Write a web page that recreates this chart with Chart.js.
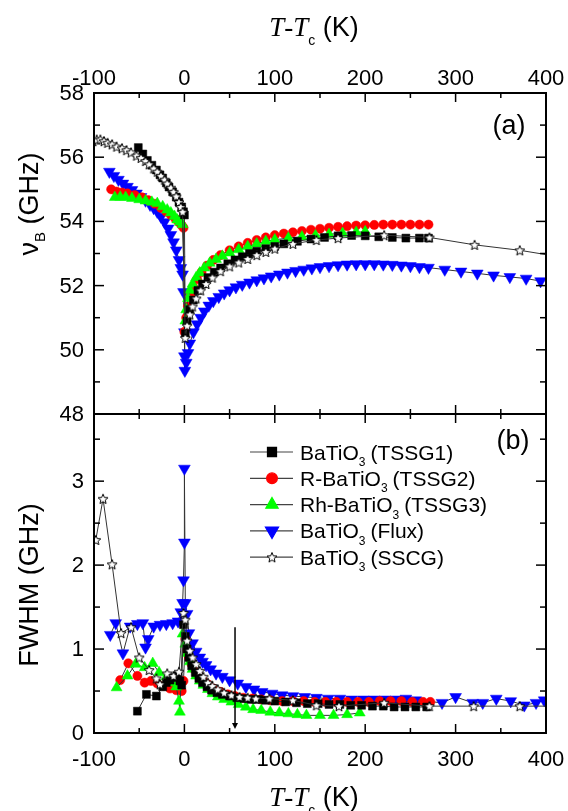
<!DOCTYPE html>
<html>
<head>
<meta charset="utf-8">
<script src="https://cdn.jsdelivr.net/npm/chart.js@4.4.0/dist/chart.umd.min.js"></script>
<style>
  html, body { margin: 0; padding: 0; background: #fff; }
  #wrap { position: relative; width: 568px; height: 811px; }
  #wrap canvas { position: absolute; left: 0; top: 0; }
</style>
</head>
<body>
<div id="wrap">
  <canvas id="panelA" width="568" height="811"></canvas>
  <canvas id="panelB" width="568" height="811"></canvas>
</div>
<script>
// --- data: [T-Tc (K), value] ---
const xTickVals = [-100, 0, 100, 200, 300, 400];
const nuTickVals = [48, 50, 52, 54, 56, 58];
const fwTickVals = [0, 1, 2, 3];

const seriesNames = [
  ['BaTiO', '3', '(TSSG1)'],
  ['R-BaTiO', '3', '(TSSG2)'],
  ['Rh-BaTiO', '3', '(TSSG3)'],
  ['BaTiO', '3', '(Flux)'],
  ['BaTiO', '3', '(SSCG)']
];

// panel (a) : Brillouin shift (GHz)
const tssg1Nu = [[-51,56.3],[-46,56.1],[-41,55.9],[-36,55.75],[-31,55.6],[-27,55.45],[-24,55.35],[-20,55.2],[-17,55.07],[-13,54.92],[-9,54.76],[-6,54.6],[-3,54.45],[-1,54.3],[0,54.2],
  [1,50.5],[3,50.9],[6,51.25],[10,51.55],[15,51.85],[20,52.05],[26,52.25],[33,52.42],[40,52.55],[48,52.68],[56,52.8],[64,52.9],[72,53.0],[80,53.07],[90,53.15],[100,53.22],[110,53.3],[125,53.38],[140,53.45],[155,53.5],[170,53.55],[185,53.56],[200,53.55],[215,53.52],[230,53.5],[245,53.48],[260,53.48],[270,53.48]];
const tssg2Nu = [[-81,55.0],[-75,54.93],[-69,54.9],[-63,54.87],[-55,54.82],[-47,54.75],[-40,54.66],[-33,54.55],[-26,54.42],[-20,54.3],[-15,54.2],[-10,54.08],[-6,53.97],[-3,53.88],[-1,53.8],
  [0,50.56],[2,51.0],[4,51.35],[7,51.7],[10,51.95],[14,52.2],[19,52.42],[25,52.62],[32,52.8],[40,52.95],[50,53.1],[60,53.22],[70,53.33],[80,53.42],[90,53.5],[100,53.57],[110,53.62],[120,53.66],[130,53.7],[140,53.74],[150,53.77],[160,53.8],[170,53.83],[180,53.85],[190,53.87],[200,53.88],[210,53.89],[220,53.9],[230,53.9],[240,53.9],[250,53.9],[260,53.9],[270,53.9]];
const tssg3Nu = [[-77,54.75],[-71,54.76],[-65,54.75],[-58,54.72],[-50,54.68],[-43,54.64],[-36,54.6],[-30,54.56],[-24,54.46],[-19,54.36],[-15,54.27],[-11,54.16],[-8,54.05],[-5,53.98],[-2,53.9],
  [1,50.9],[2,51.25],[4,51.6],[6,51.85],[9,52.05],[13,52.25],[17,52.4],[22,52.55],[28,52.7],[35,52.82],[42,52.92],[50,53.02],[60,53.12],[70,53.22],[80,53.3],[90,53.38],[100,53.43],[115,53.48],[130,53.52],[145,53.56],[160,53.6],[175,53.63],[190,53.66],[200,53.68]];
const fluxNu = [[-83,55.55],[-78,55.42],[-73,55.3],[-68,55.18],[-63,55.08],[-58,54.98],[-53,54.87],[-48,54.76],[-43,54.65],[-38,54.52],[-34,54.42],[-30,54.3],[-26,54.15],[-22,53.98],[-18,53.78],[-15,53.58],[-12,53.35],[-9,53.1],[-6,52.8],[-4,52.55],[-2,52.35],[-1,51.8],[0,50.55],[0,49.8],[0.5,49.35],
  [2,49.6],[4,49.9],[6,50.2],[10,50.55],[14,50.8],[18,51.0],[22,51.2],[27,51.38],[32,51.52],[38,51.65],[44,51.76],[50,51.86],[57,51.95],[64,52.03],[72,52.1],[80,52.17],[88,52.23],[96,52.29],[105,52.35],[114,52.41],[123,52.46],[132,52.5],[141,52.54],[150,52.58],[160,52.61],[170,52.64],[180,52.66],[190,52.67],[200,52.67],[210,52.67],[220,52.66],[230,52.65],[240,52.63],[250,52.61],[260,52.58],[270,52.56],[288,52.5],[306,52.44],[324,52.38],[342,52.32],[360,52.27],[378,52.22],[394,52.14]];
const sscgNu = [[-101,56.5],[-97,56.55],[-93,56.55],[-89,56.5],[-85,56.45],[-80,56.4],[-75,56.33],[-69,56.28],[-64,56.22],[-59,56.15],[-53,56.05],[-48,55.98],[-43,55.88],[-39,55.78],[-34,55.65],[-30,55.55],[-26,55.42],[-22,55.3],[-19,55.18],[-15,55.05],[-12,54.92],[-9,54.78],[-6,54.6],[-4,54.45],[-2,54.3],
  [1,50.37],[3,50.75],[6,51.1],[9,51.35],[13,51.6],[18,51.85],[24,52.05],[31,52.25],[40,52.45],[50,52.6],[60,52.72],[70,52.83],[80,52.95],[90,53.05],[100,53.15],[120,53.3],[146,53.42],[170,53.48],[221,53.57],[271,53.5],[321,53.27],[371,53.1],[425,52.85]];

// panel (b) : FWHM (GHz)
const tssg1Fw = [[-52,0.26],[-42,0.46],[-31,0.44],[-24,0.55],[-20,0.6],[-16,0.63],[-12,0.66],[-8,0.68],[-5,0.62],[-3,0.57],[-1,1.29],
  [1,1.15],[3,1.0],[5,0.9],[8,0.8],[12,0.72],[16,0.65],[20,0.6],[25,0.55],[30,0.51],[36,0.48],[42,0.46],[50,0.44],[58,0.42],[66,0.41],[74,0.4],[82,0.4],[90,0.39],[100,0.38],[112,0.37],[124,0.36],[136,0.35],[148,0.35],[160,0.34],[172,0.34],[184,0.33],[196,0.33],[208,0.32],[220,0.32],[232,0.31],[244,0.31],[256,0.31],[268,0.31]];
const tssg2Fw = [[-71,0.63],[-62,0.83],[-52,0.68],[-44,0.6],[-37,0.62],[-30,0.59],[-23,0.56],[-16,0.53],[-9,0.51],[-3,0.5],[-1,0.62],
  [1,1.12],[3,0.98],[5,0.9],[8,0.82],[11,0.76],[15,0.7],[20,0.64],[26,0.58],[32,0.53],[40,0.49],[48,0.46],[56,0.44],[65,0.42],[75,0.41],[85,0.4],[95,0.39],[108,0.38],[120,0.38],[132,0.38],[144,0.37],[156,0.37],[168,0.37],[180,0.37],[192,0.37],[204,0.37],[216,0.38],[228,0.38],[240,0.38],[252,0.37],[264,0.37],[272,0.37]];
const tssg3Fw = [[-75,0.54],[-63,0.68],[-54,0.82],[-44,0.78],[-35,0.83],[-28,0.72],[-20,0.67],[-14,0.6],[-9,0.55],[-6,0.38],[-5,0.25],[-2,1.18],
  [1,1.06],[3,0.95],[6,0.85],[9,0.76],[13,0.68],[17,0.62],[21,0.57],[26,0.52],[31,0.47],[37,0.43],[44,0.4],[52,0.37],[60,0.34],[68,0.31],[76,0.28],[85,0.27],[95,0.25],[105,0.24],[115,0.23],[125,0.22],[135,0.21],[150,0.21],[165,0.21],[180,0.22],[194,0.24]];
const fluxFw = [[-82,1.17],[-76,1.31],[-68,0.95],[-60,1.27],[-52,1.3],[-46,1.31],[-43,1.02],[-40,1.12],[-34,1.27],[-27,1.29],[-20,1.3],[-13,1.31],[-7,1.33],[-4,1.44],[-2,1.55],[-1,1.82],[0,2.27],[0,3.15],
  [1,1.55],[3,1.42],[5,1.19],[9,1.07],[13,0.97],[17,0.9],[20,0.85],[24,0.81],[29,0.76],[35,0.71],[42,0.67],[50,0.63],[59,0.59],[68,0.55],[77,0.52],[86,0.49],[97,0.47],[108,0.45],[120,0.44],[133,0.43],[146,0.42],[159,0.41],[172,0.41],[185,0.4],[198,0.4],[210,0.4],[222,0.4],[234,0.4],[245,0.41],[256,0.39],[285,0.36],[300,0.43],[319,0.36],[330,0.36],[345,0.41],[361,0.38],[376,0.33],[389,0.36],[398,0.39]];
const sscgFw = [[-98,2.3],[-90,2.79],[-80,2.01],[-70,1.19],[-59,1.26],[-50,0.9],[-39,0.75],[-31,0.65],[-27,0.58],[-19,0.71],[-12,0.68],[-6,0.73],[-1,1.43],
  [1,1.35],[3,1.1],[6,0.98],[9,0.9],[13,0.82],[17,0.74],[21,0.67],[26,0.6],[31,0.56],[37,0.52],[44,0.48],[52,0.45],[61,0.43],[70,0.42],[79,0.41],[94,0.41],[120,0.39],[146,0.33],[171,0.32],[221,0.36],[271,0.32],[320,0.32],[371,0.32],[420,0.32]];

const arrowAt = 56;      // marked temperature in panel (b)
const arrowTop = 1.26;

// --- styles ---
const SANS = '"Liberation Sans", Arial, sans-serif';
const SERIF = '"Liberation Serif", "Times New Roman", serif';

function starImage(r) {
  const c = document.createElement('canvas');
  const s = Math.ceil(r * 2 + 3);
  c.width = c.height = s;
  const g = c.getContext('2d');
  g.beginPath();
  for (let i = 0; i < 10; i++) {
    const rr = i % 2 ? r * 0.45 : r;
    const a = -Math.PI / 2 + i * Math.PI / 5;
    const px = s / 2 + rr * Math.cos(a), py = s / 2 + rr * Math.sin(a) + r * 0.1;
    if (i) g.lineTo(px, py); else g.moveTo(px, py);
  }
  g.closePath();
  g.fillStyle = '#fff';
  g.fill();
  g.lineWidth = 1;
  g.strokeStyle = '#000';
  g.stroke();
  return c;
}
const star = starImage(5.2);

// draw order: first dataset ends up on top
const looks = [
  { color: '#000000', shape: 'rect', r: 5.6, rot: 0 },      // TSSG1
  { color: '#ff0000', shape: 'circle', r: 4.6, rot: 0 },    // TSSG2
  { color: '#00ff00', shape: 'triangle', r: 6.3, rot: 0 },  // TSSG3
  { color: '#0000ff', shape: 'triangle', r: 6.8, rot: 180 },// Flux
  { color: '#000000', shape: star, r: 5, rot: 0 }           // SSCG
];

function series(pts, k) {
  const lk = looks[k];
  return {
    data: pts.map(p => ({ x: p[0], y: p[1] })),
    showLine: true,
    borderColor: '#333',
    borderWidth: 1,
    pointStyle: lk.shape,
    pointRotation: lk.rot,
    pointRadius: lk.r,
    pointBackgroundColor: lk.shape === star ? '#fff' : lk.color,
    pointBorderColor: lk.color,
    pointBorderWidth: 0.5
  };
}

function drawRuns(ctx, runs, x, y) {
  let w = 0;
  runs.forEach(r => { ctx.font = r.font; w += ctx.measureText(r.t).width + (r.gap || 0); });
  let cx = x - w / 2;
  ctx.textAlign = 'left';
  ctx.textBaseline = 'alphabetic';
  runs.forEach(r => {
    ctx.font = r.font;
    ctx.fillText(r.t, cx, y + (r.dy || 0));
    cx += ctx.measureText(r.t).width + (r.gap || 0);
  });
}

const xTitleRuns = [
  { t: 'T', font: 'italic 27px ' + SERIF },
  { t: '-', font: '27px ' + SERIF },
  { t: 'T', font: 'italic 27px ' + SERIF },
  { t: 'c', font: '14px ' + SANS, dy: 9 },
  { t: ' (K)', font: '27px ' + SANS }
];

// frame, inward ticks, tick labels and titles, all placed through the chart scales
const panelDeco = {
  id: 'panelDeco',
  afterDraw(chart, args, o) {
    const { ctx, chartArea: a } = chart;
    const xs = chart.scales.x, ys = chart.scales.y;
    ctx.save();
    ctx.strokeStyle = '#000';
    ctx.fillStyle = '#000';
    ctx.lineWidth = 1.5;
    const seg = (x1, y1, x2, y2) => { ctx.beginPath(); ctx.moveTo(x1, y1); ctx.lineTo(x2, y2); ctx.stroke(); };
    for (let v = -100; v <= 400; v += 50) {
      const px = xs.getPixelForValue(v);
      const len = v % 100 === 0 ? 9 : 5;
      seg(px, a.top, px, a.top + len);
      seg(px, a.bottom, px, a.bottom - len);
    }
    for (let v = o.yMin; v <= o.yMax + 1e-6; v += o.yMinor) {
      const py = ys.getPixelForValue(v);
      const len = o.yTicks.some(t => Math.abs(t - v) < 1e-6) ? 10 : 6;
      seg(a.left, py, a.left + len, py);
      seg(a.right, py, a.right - len, py);
    }
    ctx.lineWidth = 2;
    ctx.strokeRect(a.left, a.top, a.right - a.left, a.bottom - a.top);

    // y tick labels
    ctx.font = '22px ' + SANS;
    ctx.textAlign = 'right';
    ctx.textBaseline = 'middle';
    o.yTicks.forEach(v => ctx.fillText(String(v), 84, ys.getPixelForValue(v) + 1));

    // x tick labels
    ctx.textAlign = 'center';
    ctx.textBaseline = 'alphabetic';
    xTickVals.forEach(v => ctx.fillText(String(v), xs.getPixelForValue(v), o.xLabelY));

    // x title
    drawRuns(ctx, xTitleRuns, 314, o.xTitleY);

    // y title
    ctx.save();
    ctx.translate(28, o.yTitleY);
    ctx.rotate(-Math.PI / 2);
    drawRuns(ctx, o.yTitleRuns, 0, 10);
    ctx.restore();

    // panel tag
    ctx.font = '27px ' + SANS;
    ctx.textAlign = 'center';
    ctx.textBaseline = 'middle';
    ctx.fillText(o.tag, o.tagX, o.tagY);
    ctx.restore();
  }
};

// legend and arrow of panel (b)
const panelBExtras = {
  id: 'panelBExtras',
  afterDraw(chart) {
    const { ctx } = chart;
    const xs = chart.scales.x, ys = chart.scales.y;
    ctx.save();
    // arrow
    const ax = xs.getPixelForValue(arrowAt);
    const tip = ys.getPixelForValue(0) - 4;
    ctx.strokeStyle = '#000';
    ctx.fillStyle = '#000';
    ctx.lineWidth = 1.5;
    ctx.beginPath();
    ctx.moveTo(ax, ys.getPixelForValue(arrowTop));
    ctx.lineTo(ax, tip - 4);
    ctx.stroke();
    ctx.beginPath();
    ctx.moveTo(ax - 3, tip - 6);
    ctx.lineTo(ax + 3, tip - 6);
    ctx.lineTo(ax, tip);
    ctx.closePath();
    ctx.fill();

    // legend
    seriesNames.forEach((nm, k) => {
      const y = 452 + k * 26.3;
      ctx.strokeStyle = '#444';
      ctx.lineWidth = 1.2;
      ctx.beginPath();
      ctx.moveTo(250, y);
      ctx.lineTo(293, y);
      ctx.stroke();
      const lk = looks[k];
      ctx.fillStyle = lk.shape === star ? '#fff' : lk.color;
      ctx.strokeStyle = lk.color;
      Chart.helpers.drawPoint(ctx, { pointStyle: lk.shape, radius: lk.r + 0.8, rotation: lk.rot, borderWidth: 0.5 }, 272, y);
      ctx.fillStyle = '#000';
      ctx.textAlign = 'left';
      ctx.textBaseline = 'alphabetic';
      ctx.font = '21px ' + SANS;
      let tx = 300;
      ctx.fillText(nm[0], tx, y + 7.5);
      tx += ctx.measureText(nm[0]).width;
      ctx.font = '12px ' + SANS;
      ctx.fillText(nm[1], tx, y + 14);
      tx += ctx.measureText(nm[1]).width + 5;
      ctx.font = '21px ' + SANS;
      ctx.fillText(nm[2], tx, y + 7.5);
    });
    ctx.restore();
  }
};

function makePanel(id, sets, yMin, yMax, pad, deco, extra) {
  return new Chart(document.getElementById(id), {
    type: 'scatter',
    data: { datasets: sets },
    options: {
      responsive: false,
      animation: false,
      events: [],
      layout: { padding: pad },
      plugins: { legend: { display: false }, tooltip: { enabled: false }, panelDeco: deco },
      scales: {
        x: { type: 'linear', min: -100, max: 400, display: false },
        y: { type: 'linear', min: yMin, max: yMax, display: false }
      }
    },
    plugins: extra ? [panelDeco, extra] : [panelDeco]
  });
}

// dataset order = drawing order from top to bottom
makePanel('panelA',
  [series(sscgNu, 4), series(tssg1Nu, 0), series(tssg3Nu, 2), series(tssg2Nu, 1), series(fluxNu, 3)],
  48, 58, { left: 94, right: 22, top: 93, bottom: 397 },
  { yMin: 48, yMax: 58, yMinor: 1, yTicks: nuTickVals, xLabelY: 85, xTitleY: 36, yTitleY: 204,
    yTitleRuns: [{ t: 'ν', font: '27px ' + SANS }, { t: 'B', font: '15px ' + SANS, dy: 7 }, { t: ' (GHz)', font: '27px ' + SANS }],
    tag: '(a)', tagX: 509, tagY: 127 });

makePanel('panelB',
  [series(sscgFw, 4), series(tssg1Fw, 0), series(tssg3Fw, 2), series(tssg2Fw, 1), series(fluxFw, 3)],
  0, 3.8, { left: 94, right: 22, top: 414, bottom: 78 },
  { yMin: 0, yMax: 3.5, yMinor: 0.5, yTicks: fwTickVals, xLabelY: 766, xTitleY: 806, yTitleY: 585,
    yTitleRuns: [{ t: 'FWHM (GHz)', font: '27px ' + SANS }],
    tag: '(b)', tagX: 513, tagY: 442 },
  panelBExtras);
</script>
</body>
</html>
